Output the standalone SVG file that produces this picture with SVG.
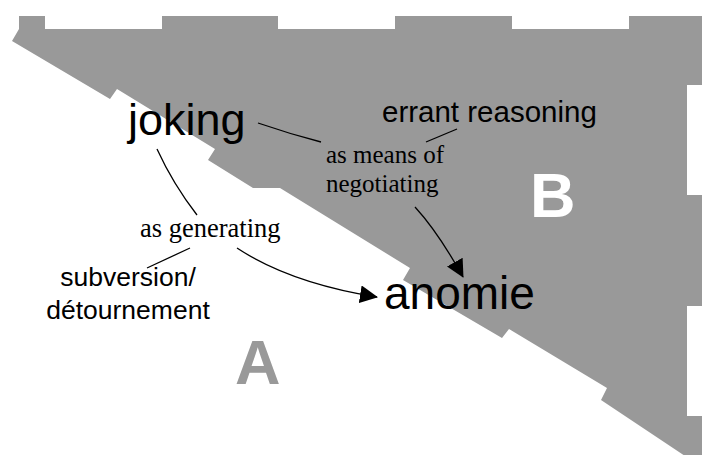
<svg xmlns="http://www.w3.org/2000/svg" width="702" height="455" viewBox="0 0 702 455">
  <style>
    .sans { font-family: "Liberation Sans", Arial, sans-serif; fill: #000; }
    .serif { font-family: "Liberation Serif", "Times New Roman", serif; fill: #000; }
    .region { font-family: "Liberation Sans", Arial, sans-serif; font-weight: bold; font-size: 63px; }
    .conn { fill: none; stroke: #000; stroke-width: 1.3; }
  </style>
  <defs>
    <marker id="arrow" markerUnits="userSpaceOnUse" markerWidth="18" markerHeight="18" viewBox="0 0 18 18" refX="17" refY="9" orient="auto">
      <path d="M0,0 L18,9 L0,18 z" fill="#000"/>
    </marker>
  </defs>
  <rect width="702" height="455" fill="#fff"/>
  <g id="zone-B-shape">
    <polygon fill="#999" points="19,16 45,16 45,29 162,29 162,16 278,16 278,29 395,29 395,16 512,16 512,29 629,29 629,16 702,16 702,85 687,85 687,195 702,195 702,306 687,306 687,416 702,416 702,460 691,460 601,400 607,388 509,329 502,338 403,280 410,268 280,188 253,188 208,160 215,149 117,89 110,99 12,41 19,29"/>
  </g>
  <g id="region-A"><text class="region" x="235" y="384" fill="#999">A</text></g>
  <g id="region-B"><text class="region" x="530" y="217" fill="#fff">B</text></g>
  <g id="connectors">
    <path class="conn" d="M157,149 Q173,184 197,215"/>
    <path class="conn" d="M237,248 Q290,283 377,297" marker-end="url(#arrow)"/>
    <path class="conn" d="M258,123 Q290,134 321,142"/>
    <path class="conn" d="M415,207 Q438,232 463,277" marker-end="url(#arrow)"/>
    <path class="conn" d="M457,129 L426,142"/>
    <path class="conn" d="M190,248 L147,268"/>
  </g>
  <g id="joking"><text class="sans" x="128" y="135" font-size="45">joking</text></g>
  <g id="anomie"><text class="sans" x="384" y="309" font-size="46">anomie</text></g>
  <g id="errant-reasoning"><text class="sans" x="382" y="122" font-size="29.5">errant reasoning</text></g>
  <g id="subversion"><text class="sans" text-anchor="middle" x="128" font-size="26.5"><tspan x="128" y="286">subversion/</tspan><tspan x="128" y="319">détournement</tspan></text></g>
  <g id="label-means"><text class="serif" x="326" font-size="25"><tspan x="326" y="163">as means of</tspan><tspan x="326" y="192">negotiating</tspan></text></g>
  <g id="label-generating"><text class="serif" x="140" y="237" font-size="26.5">as generating</text></g>
</svg>
